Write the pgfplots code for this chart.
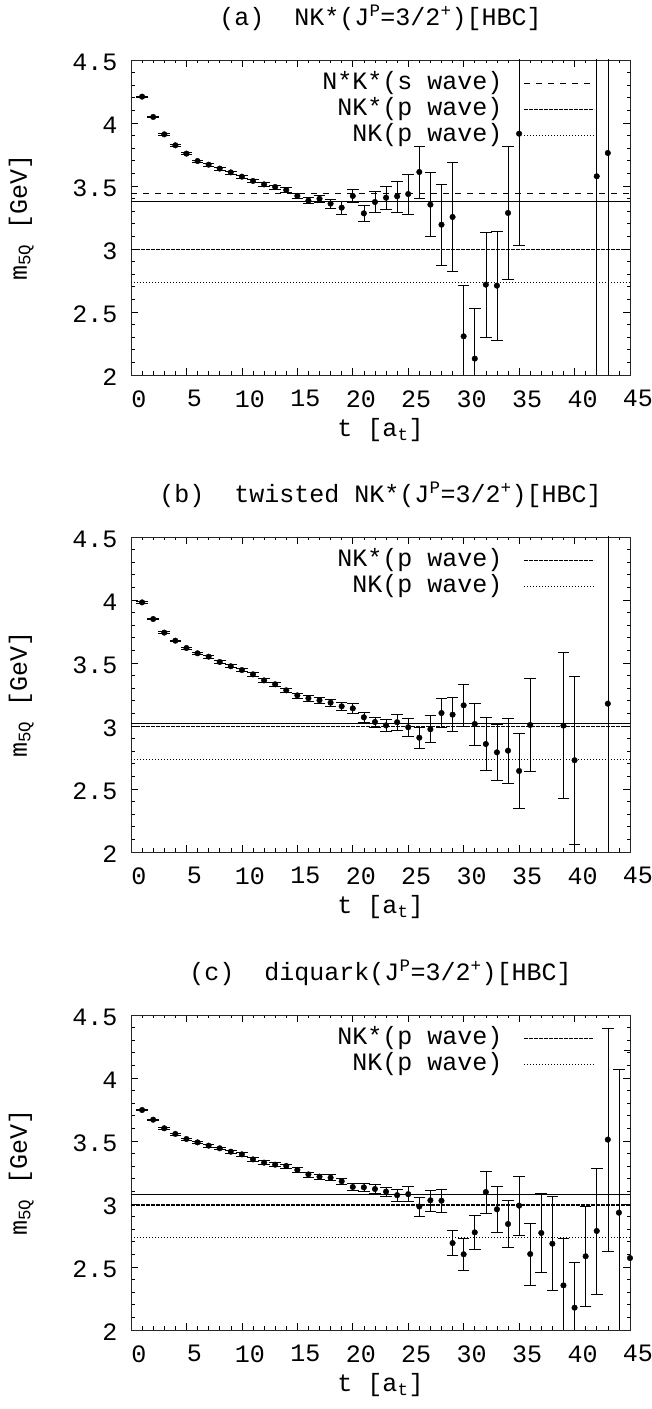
\documentclass[border=0pt]{standalone}
\usepackage{fontspec}
\setmainfont{Liberation Mono}
\usepackage{pgfplots}
\pgfplotsset{compat=1.18}
\usepackage{pgfplotstable}

\pgfplotstableread{
t m e
1 4.209 0.006
2 4.048 0.006
3 3.910 0.007
4 3.823 0.007
5 3.757 0.008
6 3.698 0.009
7 3.669 0.010
8 3.638 0.011
9 3.608 0.012
10 3.574 0.013
11 3.540 0.014
12 3.513 0.015
13 3.492 0.016
14 3.468 0.018
15 3.421 0.020
16 3.384 0.025
17 3.399 0.030
18 3.360 0.035
19 3.328 0.050
20 3.421 0.053
21 3.283 0.062
22 3.373 0.082
23 3.407 0.090
24 3.418 0.123
25 3.436 0.157
26 3.611 0.206
27 3.352 0.255
28 3.193 0.320
29 3.254 0.434
30 2.307 0.402
31 2.130 0.400
32 2.717 0.415
33 2.709 0.433
34 3.286 0.525
35 3.915 0.886
42 3.577 2.5
43 3.762 2.5
}\dataA

\pgfplotstableread{
t m e
1 3.981 0.006
2 3.849 0.006
3 3.741 0.007
4 3.677 0.007
5 3.619 0.008
6 3.577 0.009
7 3.550 0.010
8 3.508 0.011
9 3.474 0.012
10 3.444 0.013
11 3.410 0.014
12 3.362 0.015
13 3.331 0.016
14 3.283 0.018
15 3.243 0.020
16 3.220 0.022
17 3.204 0.025
18 3.185 0.028
19 3.156 0.032
20 3.140 0.040
21 3.069 0.040
22 3.032 0.040
23 3.005 0.050
24 3.030 0.066
25 2.990 0.070
26 2.907 0.086
27 2.974 0.107
28 3.103 0.114
29 3.090 0.135
30 3.164 0.168
31 3.016 0.168
32 2.857 0.210
33 2.791 0.220
34 2.804 0.257
35 2.643 0.300
36 3.008 0.370
39 3.003 0.580
40 2.728 0.670
43 3.177 2.5
}\dataB

\pgfplotstableread{
t m e
1 3.746 0.006
2 3.669 0.006
3 3.601 0.007
4 3.556 0.007
5 3.516 0.008
6 3.489 0.009
7 3.463 0.010
8 3.442 0.011
9 3.415 0.012
10 3.394 0.013
11 3.354 0.014
12 3.328 0.015
13 3.312 0.016
14 3.302 0.017
15 3.270 0.018
16 3.235 0.020
17 3.217 0.022
18 3.209 0.024
19 3.180 0.027
20 3.135 0.030
21 3.132 0.033
22 3.119 0.035
23 3.098 0.037
24 3.070 0.045
25 3.078 0.060
26 2.980 0.074
27 3.029 0.083
28 3.026 0.094
29 2.690 0.100
30 2.601 0.128
31 2.775 0.136
32 3.095 0.168
33 2.958 0.180
34 2.841 0.187
35 2.987 0.234
36 2.603 0.247
37 2.770 0.314
38 2.685 0.373
39 2.354 0.370
40 2.177 0.360
41 2.585 0.400
42 2.786 0.500
43 3.511 0.886
44 2.931 1.140
45 2.571 1.646
}\dataC

\newcommand{\bigfont}{\fontsize{25bp}{30bp}\selectfont}

\pgfplotsset{
  myaxis/.style={
    scale only axis, width=499bp, height=315bp, anchor=south west,
    xmin=0, xmax=45, ymin=2, ymax=4.5,
    xtick={0,5,10,15,20,25,30,35,40,45},
    ytick={2,2.5,3,3.5,4,4.5},
    minor x tick num=4, minor y tick num=4,
    major tick length=7bp, minor tick length=3.5bp,
    tick style={black, line width=0.6bp},
    axis line style={line width=0.8bp, black!85},
    /pgf/number format/assume math mode=true,
    tick label style={font=\bigfont},
    xticklabel style={xshift=8bp, yshift=-12bp},
    yticklabel style={xshift=-10bp, yshift=-2bp},
    label style={font=\bigfont},
    xlabel={t [a\textsubscript{t}]},
    ylabel={m\textsubscript{5Q} [GeV]},
    xlabel style={at={(axis description cs:0.5,-0.175)}, anchor=center},
    ylabel style={at={(axis description cs:-0.22,0.5)}, anchor=center},
    title style={font=\bigfont, at={(axis description cs:0.5,1)}, anchor=base, yshift=29bp},
    legend style={draw=none, fill=none, font=\bigfont,
      at={(axis description cs:0.936,0.968)}, anchor=north east,
      row sep=4bp, column sep=21bp,
      nodes={inner sep=0pt, text height=17bp, text depth=5bp}},
    legend cell align=right,
    legend plot pos=right,
    legend image code/.code={\draw[##1] (0bp,0bp) -- (70bp,0bp);},
  },
  fitline/.style={black, line width=0.9bp, forget plot},
  swave/.style={black, line width=0.6bp, dash pattern=on 6bp off 6bp},
  pnkstar/.style={black, line width=1.5bp, dash pattern=on 3.5bp off 1.5bp},
  pnk/.style={black, line width=0.7bp, dash pattern=on 0.8bp off 2.2bp},
  pts/.style={only marks, black, mark=*, mark size=2.8bp, forget plot,
    error bars/.cd, y dir=both, y explicit,
    error bar style={line width=0.6bp, black},
    error mark options={rotate=90, mark size=5.8bp, line width=0.6bp, black}},
}

\begin{document}
\begin{tikzpicture}
\begin{axis}[myaxis, at={(131bp,1034bp)},
  title={(a)\ \ NK*(J\textsuperscript{P}=3/2\textsuperscript{+})[HBC]}]
\addplot[fitline] coordinates {(0,3.381) (45,3.381)};
\addplot[swave] coordinates {(0,3.439) (45,3.439)};
\addlegendentry{N*K*(s wave)}
\addplot[pnkstar] coordinates {(0,2.994) (45,2.994)};
\addlegendentry{NK*(p wave)}
\addplot[pnk] coordinates {(0,2.738) (45,2.738)};
\addlegendentry{NK(p wave)}
\addplot[pts] table[x=t, y=m, y error=e] {\dataA};
\end{axis}

\begin{axis}[myaxis, at={(131bp,557bp)},
  title={(b)\ \ twisted NK*(J\textsuperscript{P}=3/2\textsuperscript{+})[HBC]}]
\addplot[fitline] coordinates {(0,3.018) (45,3.018)};
\addplot[pnkstar] coordinates {(0,2.994) (45,2.994)};
\addlegendentry{NK*(p wave)}
\addplot[pnk] coordinates {(0,2.738) (45,2.738)};
\addlegendentry{NK(p wave)}
\addplot[pts] table[x=t, y=m, y error=e] {\dataB};
\end{axis}

\begin{axis}[myaxis, at={(131bp,79bp)},
  title={(c)\ \ diquark(J\textsuperscript{P}=3/2\textsuperscript{+})[HBC]}]
\addplot[fitline] coordinates {(0,3.079) (45,3.079)};
\addplot[pnkstar] coordinates {(0,2.994) (45,2.994)};
\addlegendentry{NK*(p wave)}
\addplot[pnk] coordinates {(0,2.738) (45,2.738)};
\addlegendentry{NK(p wave)}
\addplot[pts] table[x=t, y=m, y error=e] {\dataC};
\end{axis}

\pgfresetboundingbox
\path[use as bounding box] (0,0) rectangle (652bp,1409bp);
\end{tikzpicture}
\end{document}
